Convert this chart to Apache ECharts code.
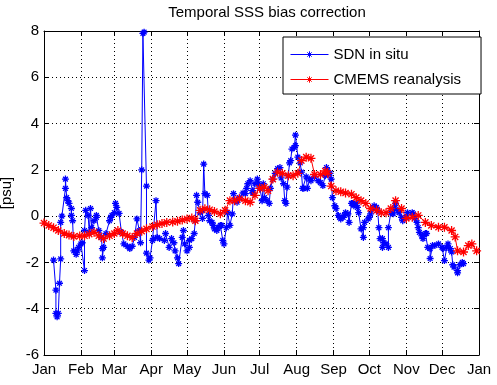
<!DOCTYPE html>
<html>
<head>
<meta charset="utf-8">
<script src="https://cdn.jsdelivr.net/npm/echarts@6/dist/echarts.min.js"></script>
<style>
  html, body { margin: 0; padding: 0; background: #fff; }
  #chart { width: 497px; height: 385px; }
</style>
</head>
<body>
<div id="chart"></div>
<script>
// Temporal SSS bias correction — day-of-year on x, bias [psu] on y
const monthNames = ['Jan', 'Feb', 'Mar', 'Apr', 'May', 'Jun', 'Jul', 'Aug', 'Sep', 'Oct', 'Nov', 'Dec', 'Jan'];
const monthStarts = [0, 31, 59, 90, 120, 151, 181, 212, 243, 273, 304, 334, 365];

const blueDays = [8, 10, 10, 11, 12, 13, 14, 14, 15, 18, 18, 19, 20, 21, 23, 23, 24, 25, 27, 28, 29, 31, 32, 34, 34, 35, 37, 38, 39, 40,
  42, 44, 44, 46, 48, 49, 49, 50, 52, 55, 56, 57, 59, 60, 61, 63, 65, 67, 70, 72, 74, 76, 78, 80, 81, 82, 83, 84, 86, 86,
  88, 89, 91, 92, 94, 95, 97, 101, 102, 105, 107, 109, 110, 112, 113, 116, 117, 118, 120, 122, 122, 124, 126, 127, 128, 129, 131, 133, 133, 134,
  135, 137, 138, 139, 141, 142, 143, 145, 146, 148, 149, 150, 151, 153, 154, 156, 158, 159, 160, 162, 164, 167, 169, 170, 171, 173, 175, 175, 177, 179,
  180, 181, 183, 184, 185, 187, 189, 190, 192, 194, 196, 198, 199, 201, 202, 203, 204, 205, 206, 207, 208, 210, 211, 211, 213, 215, 216, 217, 218, 220,
  221, 223, 224, 227, 230, 232, 234, 236, 237, 238, 240, 241, 242, 244, 245, 247, 248, 249, 251, 252, 253, 255, 256, 258, 259, 260, 262, 263, 264, 266,
  268, 268, 269, 272, 273, 274, 276, 277, 279, 280, 281, 282, 284, 284, 285, 287, 289, 289, 291, 293, 294, 295, 297, 298, 300, 301, 304, 305, 309, 310,
  311, 313, 314, 315, 317, 318, 320, 321, 322, 324, 324, 326, 328, 331, 334, 335, 336, 338, 339, 341, 342, 343, 344, 347, 347, 349, 351, 352];
const blueVals = [-1.9, -3.2, -4.2, -4.35, -4.2, -2.9, -1.85, -0.27, 0.0, 1.2, 1.6, 0.8, 0.67, 0.55, 0.33, 0.03, -0.2, -1.5, -1.65, -1.5, -1.35, -1.2, -1.15, -2.35, -0.62, 0.25, 0.03, -0.7, 0.33, -0.5,
  -0.2, -0.05, 0.03, -0.62, -0.92, -1.4, -1.8, -1.35, -0.75, -0.2, -0.05, 0.03, 0.15, 0.55, 0.38, 0.12, -0.7, -1.2, -1.3, -1.4, -1.3, -0.92, -0.12, -0.62, -1.15, 2.0, 7.9, 7.95, 1.3, -1.6,
  -1.9, -1.8, -1.05, -0.97, 0.67, -0.92, -0.97, -1.05, -0.75, -1.35, -0.97, -1.15, -1.5, -1.8, -2.05, -0.92, -0.62, -1.2, -1.5, -1.35, -1.05, -0.97, -0.75, -0.2, 0.9, 0.6, 0.15, 0.25, -0.1, 2.25,
  0.97, 0.9, 0.03, -0.2, -0.27, -0.4, -0.55, -0.62, -0.5, -0.4, -0.4, -1.05, -1.2, -0.5, 0.15, -0.4, 0.1, 0.97, 0.67, 0.6, 0.8, 1.0, 0.97, 1.2, 1.4, 1.53, 1.1, 1.0, 1.4, 1.6,
  1.4, 1.25, 0.67, 1.4, 0.8, 0.67, 0.55, 1.2, 1.6, 1.85, 2.05, 2.1, 1.65, 1.4, 0.67, 0.55, 1.25, 1.75, 2.3, 2.4, 2.9, 2.97, 3.05, 3.5, 2.55, 2.3, 1.9, 1.2, 1.2, 1.7,
  1.2, 1.6, 1.53, 1.7, 1.53, 1.45, 1.32, 1.75, 2.1, 1.97, 1.85, 1.6, 0.8, 0.45, 0.33, 0.03, -0.05, -0.12, -0.05, 0.03, 0.15, 0.1, -0.27, 0.55, 0.55, 0.45, 0.55, 0.38, 0.15, -0.55,
  -0.92, -0.5, -0.27, -0.12, -0.05, 0.1, 0.33, 0.45, 0.38, 0.25, -0.5, -0.97, -0.97, -1.35, -1.15, -1.2, -1.35, -0.5, 0.15, 0.1, 0.33, 0.55, 0.25, 0.15, -0.05, -0.2, -0.05, 0.15, 0.15, 0.1,
  -0.1, -0.27, -0.5, -0.7, -0.85, -0.97, -0.75, -0.75, -1.35, -1.4, -1.83, -1.27, -1.27, -1.2, -1.35, -1.4, -1.92, -1.35, -1.2, -1.4, -1.55, -2.1, -2.2, -2.35, -2.45, -2.1, -2.0, -2.05];

const redDays = [0, 4, 8, 12, 17, 21, 25, 30, 34, 38, 42, 46, 50, 55, 59, 62, 66, 70, 74, 78, 82, 86, 91, 95, 99, 103, 108, 112, 116, 120,
  124, 127, 131, 135, 139, 143, 148, 152, 156, 160, 164, 169, 173, 177, 181, 185, 188, 192, 196, 200, 205, 209, 213, 216, 220, 224, 227, 232, 236, 238,
  241, 245, 249, 253, 258, 262, 266, 270, 274, 279, 283, 287, 291, 295, 300, 304, 309, 314, 320, 325, 331, 336, 342, 345, 347, 352, 356, 359, 363];
const redVals = [-0.3, -0.4, -0.5, -0.62, -0.75, -0.82, -0.88, -0.86, -0.85, -0.78, -0.7, -0.85, -0.97, -0.85, -0.75, -0.62, -0.75, -0.85, -0.92, -0.75, -0.65, -0.55, -0.45, -0.37, -0.32, -0.27, -0.25, -0.22, -0.17, -0.12,
  -0.08, -0.2, 0.25, 0.32, 0.28, 0.2, 0.1, 0.25, 0.67, 0.67, 0.75, 0.67, 0.6, 0.9, 1.2, 1.25, 1.1, 1.6, 1.9, 1.85, 1.75, 1.75, 1.85, 2.4, 2.55, 2.5, 1.8, 1.8, 1.95, 1.85,
  1.3, 1.1, 1.05, 1.0, 0.95, 0.8, 0.67, 0.55, 0.33, 0.25, 0.15, 0.15, 0.33, 0.67, 0.33, -0.1, -0.05, 0.03, -0.27, -0.4, -0.48, -0.48, -0.62, -0.9, -1.5, -1.55, -1.27, -1.2, -1.5];

const yTickMin = -6, yTickMax = 8, yTickStep = 2;

const FONT = "'Liberation Sans', Arial, Helvetica, sans-serif";
const asterisk = 'path://M5 0 L5 10 M0 5 L10 5 M1.6 1.6 L8.4 8.4 M1.6 8.4 L8.4 1.6';
const dotted = { color: '#000', width: 1, type: [1, 3] };

function zip(xs, ys) {
    return xs.map((x, i) => [x, ys[i]]);
}

function lineSeries(name, color, data, size) {
    return {
        name: name,
        type: 'line',
        data: data,
        symbol: asterisk,
        symbolSize: size,
        showSymbol: true,
        lineStyle: { color: color, width: 1 },
        itemStyle: { color: color, borderColor: color, borderWidth: 1.3 },
        emphasis: { disabled: true },
        animation: false
    };
}

const chart = echarts.init(document.getElementById('chart'), null, { renderer: 'canvas' });

chart.setOption({
    backgroundColor: '#fff',
    animation: false,
    textStyle: { fontFamily: FONT },
    title: {
        text: 'Temporal SSS bias correction',
        left: 262, top: 0, textAlign: 'center',
        textStyle: { fontFamily: FONT, fontSize: 15, fontWeight: 'normal', color: '#000' }
    },
    legend: {
        left: 283, top: 37,
        orient: 'vertical',
        backgroundColor: '#fff',
        borderColor: '#000', borderWidth: 1, borderRadius: 0,
        padding: [10, 20, 7, 7],
        itemWidth: 38, itemHeight: 8, itemGap: 10,
        lineStyle: { width: 1 },
        itemStyle: { borderWidth: 1 },
        textStyle: { fontFamily: FONT, fontSize: 15, color: '#000' },
        data: ['SDN in situ', 'CMEMS reanalysis']
    },
    grid: {
        left: 44, right: 18, top: 31, bottom: 30,
        outerBoundsMode: 'none', containLabel: false,
        show: false
    },
    xAxis: [
        {
            type: 'value', min: 0, max: 365,
            axisLine: { show: true, onZero: false, lineStyle: { color: '#000' } },
            axisTick: { show: true, inside: true, length: 5, customValues: monthStarts, lineStyle: { color: '#000' } },
            axisLabel: {
                customValues: monthStarts, margin: 7, color: '#000', fontFamily: FONT, fontSize: 15,
                formatter: v => monthNames[monthStarts.indexOf(v)]
            },
            // split lines follow the custom month ticks
            splitLine: { show: true, lineStyle: dotted }
        },
        {
            type: 'value', min: 0, max: 365, position: 'top',
            axisLine: { show: true, onZero: false, lineStyle: { color: '#000' } },
            axisTick: { show: true, inside: true, length: 5, customValues: monthStarts, lineStyle: { color: '#000' } },
            axisLabel: { show: false },
            splitLine: { show: false }
        }
    ],
    yAxis: [
        {
            type: 'value', min: yTickMin, max: yTickMax, interval: yTickStep,
            name: '[psu]', nameLocation: 'middle', nameGap: 28, nameRotate: 90,
            nameTextStyle: { fontFamily: FONT, fontSize: 15, color: '#000' },
            axisLine: { show: true, onZero: false, lineStyle: { color: '#000' } },
            axisTick: { show: true, inside: true, length: 5, lineStyle: { color: '#000' } },
            axisLabel: { margin: 5, color: '#000', fontFamily: FONT, fontSize: 15 },
            splitLine: { show: true, lineStyle: dotted }
        },
        {
            type: 'value', min: yTickMin, max: yTickMax, interval: yTickStep, position: 'right',
            axisLine: { show: true, onZero: false, lineStyle: { color: '#000' } },
            axisTick: { show: true, inside: true, length: 5, lineStyle: { color: '#000' } },
            axisLabel: { show: false },
            splitLine: { show: false }
        }
    ],
    series: [
        lineSeries('SDN in situ', '#0000ff', zip(blueDays, blueVals), 7),
        lineSeries('CMEMS reanalysis', '#ff0000', zip(redDays, redVals), 9)
    ]
});
</script>
</body>
</html>
